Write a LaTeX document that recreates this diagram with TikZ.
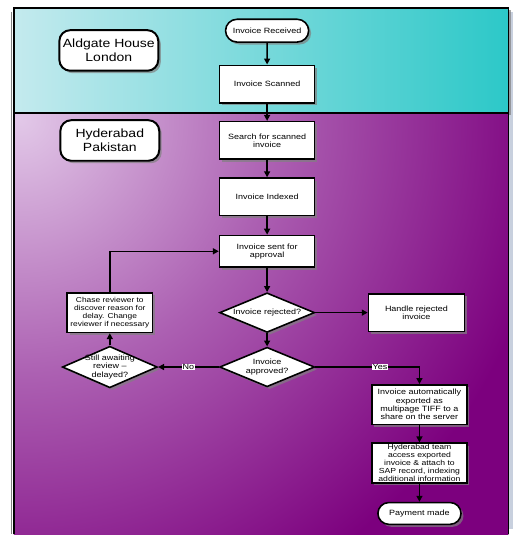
\documentclass[tikz,border=0pt]{standalone}
\usepackage{fontspec}
\setmainfont{Liberation Sans}[FakeStretch=1.18]
\usetikzlibrary{shapes, positioning, arrows.meta, shadows}
\definecolor{cyanlight}{RGB}{196,234,238}
\definecolor{cyandark}{RGB}{44,200,200}
\definecolor{lavender}{RGB}{226,200,232}
\definecolor{midpurple}{RGB}{172,96,178}
\definecolor{deeppurple}{RGB}{124,0,126}
\definecolor{edgegrey}{RGB}{200,208,222}
\pgfdeclareradialshading{lanefade}{\pgfpoint{0bp}{0bp}}{color(0bp)=(lavender);
  color(8.5bp)=(midpurple); color(17.8bp)=(deeppurple); color(50bp)=(deeppurple)}

\begin{document}
\begin{tikzpicture}[x=1pt, y=-1pt, node distance=57pt, on grid,
    every node/.style={font=\fontsize{7.7}{8.4}\selectfont, align=center},
    shade/.style={drop shadow={shadow xshift=2.5pt, shadow yshift=-2.5pt, opacity=0.7}},
    process/.style={rectangle, draw, line width=1.6pt, fill=white, minimum width=96pt,
      minimum height=38pt, inner sep=1pt, shade},
    terminal/.style={rounded rectangle, draw, line width=1.6pt, fill=white,
      minimum width=86pt, minimum height=23pt, inner sep=1pt, shade},
    decision/.style={diamond, draw, line width=1.6pt, fill=white, aspect=2.4,
      minimum width=96pt, minimum height=40pt, inner sep=-6pt, shade},
    site/.style={rectangle, rounded corners=11pt, draw, line width=2pt, fill=white,
      minimum width=100pt, minimum height=41pt, font=\fontsize{12}{14.5}\selectfont, shade},
    line/.style={draw, line width=1.5pt, -{Triangle[length=6pt, width=6pt]}},
    tag/.style={fill=white, inner sep=0.6pt}]

  % swim lanes
  \fill[edgegrey] (514,12) rectangle (519,535);
  \shade[left color=cyanlight, right color=cyandark] (14,8) rectangle (514,114);
  \begin{scope}
    \clip (14,114) rectangle (514,540);
    \shade[shading=lanefade] (20,120) circle (760);
  \end{scope}
  \draw[gray, line width=1.5pt] (11.5,12) -- (11.5,540);
  \draw[line width=1.6pt] (14,540) -- (14,8) -- (514,8) -- (514,540);
  \draw[line width=1.6pt] (14,114) -- (514,114);

  \node[terminal]  (recv)                  at (270,31) {Invoice Received};
  \node[process]   (scan)   [below=54pt of recv]     {Invoice Scanned};
  \node[process]   (search) [below=of scan]          {Search for scanned\\invoice};
  \node[process]   (idx)    [below=of search]        {Invoice Indexed};
  \node[process, minimum height=32pt] (sent) [below=55pt of idx] {Invoice sent for\\approval};
  \node[decision]  (rej)    [below=62pt of sent]     {Invoice rejected?};
  \node[decision]  (appr)   [below=55pt of rej]      {Invoice\\approved?};
  \node[process, minimum width=97pt] (handle) [right=151pt of rej] {Handle rejected\\invoice};
  \node[decision, minimum height=42pt] (still) [left=159pt of appr] {Still awaiting\\review --\\delayed?};
  \node[process, minimum width=86pt, minimum height=40pt, font=\fontsize{7.2}{8.2}\selectfont]
    (chase) [above=55pt of still]
    {Chase reviewer to\\discover reason for\\delay. Change\\reviewer if necessary};
  \node[process, minimum height=40pt] (export) [below right=38pt and 154pt of appr]
    {Invoice automatically\\exported as\\multipage TIFF to a\\share on the server};
  \node[process, minimum height=40pt, font=\fontsize{7.4}{7.9}\selectfont] (team) [below=59pt of export]
    {Hyderabad team\\access exported\\invoice \& attach to\\SAP record, indexing\\additional information};
  \node[terminal, minimum height=22pt] (pay) [below=51pt of team] {Payment made};

  \node[site] (london) [below left=20pt and 160pt of recv] {Aldgate House\\London};
  \node[site] (hyd)    [left=159pt of search]             {Hyderabad\\Pakistan};

  \path[line] (recv) edge (scan)
              (scan) edge (search)
              (search) edge (idx)
              (idx) edge (sent)
              (sent) edge (rej)
              (rej) edge (handle)
                    edge (appr)
              (appr) edge node[tag] {No} (still)
              (still) edge (chase)
              (export) edge (team)
              (team) edge (pay);
  \draw[line] (chase.north) |- (sent.west);
  \draw[line] (appr.east) -| node[tag, pos=0.31] {Yes} (export.north);

  \useasboundingbox (0,0) rectangle (520,535);
\end{tikzpicture}
\end{document}
